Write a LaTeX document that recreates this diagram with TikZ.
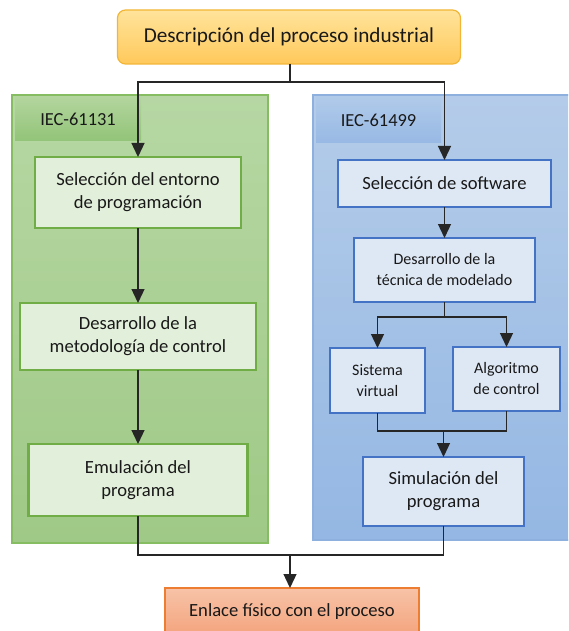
\documentclass[tikz,border=0pt]{standalone}
\usepackage{fontspec}
\setmainfont{Carlito}
\usetikzlibrary{arrows.meta}
\definecolor{topfillA}{HTML}{FFE49B}
\definecolor{topfillB}{HTML}{FFC95B}
\definecolor{topdraw}{HTML}{F2B636}
\definecolor{gpanA}{HTML}{B6D7A3}
\definecolor{gpanB}{HTML}{9FC986}
\definecolor{gpanD}{HTML}{86BD63}
\definecolor{gtabA}{HTML}{B3D59E}
\definecolor{gtabB}{HTML}{92C478}
\definecolor{gboxF}{HTML}{E2EFDA}
\definecolor{gboxD}{HTML}{70AD47}
\definecolor{bpanA}{HTML}{B4CCE9}
\definecolor{bpanB}{HTML}{94B7E3}
\definecolor{bpanD}{HTML}{8DB0DE}
\definecolor{btabA}{HTML}{B0CAE9}
\definecolor{btabB}{HTML}{98B9E5}
\definecolor{bboxF}{HTML}{DEE8F5}
\definecolor{bboxD}{HTML}{4472C4}
\definecolor{botA}{HTML}{F7C3A8}
\definecolor{botB}{HTML}{F4A37C}
\definecolor{botD}{HTML}{ED7D31}
\tikzset{
  x=1pt,y=-1pt,
  base/.style={inner sep=0pt,outer sep=0pt,align=center,text=black!90},
  panel/.style={base,line width=1.2pt},
  tabbox/.style={base,font=\fontsize{18.4}{22}\selectfont},
  gbox/.style={base,fill=gboxF,draw=gboxD,line width=2.3pt,font=\fontsize{18.6}{23}\selectfont},
  bbox/.style={base,fill=bboxF,draw=bboxD,line width=2.3pt,font=\fontsize{18.6}{23}\selectfont},
  sbox/.style={bbox,font=\fontsize{16}{21}\selectfont},
  conn/.style={line width=1.3pt,black!85},
  arr/.style={conn,-{Triangle[length=14pt,width=13pt]}}
}
\begin{document}
\begin{tikzpicture}
\clip (0,0) rectangle (568,631);
% panels
\node[panel,top color=gpanA,bottom color=gpanB,draw=gpanD,minimum width=256pt,minimum height=448pt] (gpan) at (140,319) {};
\node[panel,top color=bpanA,bottom color=bpanB,draw=bpanD,minimum width=258pt,minimum height=445pt] (bpan) at (442,317.5) {};
\node[tabbox,top color=gtabA,bottom color=gtabB,minimum width=126pt,minimum height=44pt] (gtab) at (78,119) {IEC-61131};
\node[tabbox,top color=btabA,bottom color=btabB,minimum width=125pt,minimum height=46pt] (btab) at (378.5,120) {IEC-61499};
% top and bottom
\node[base,top color=topfillA,bottom color=topfillB,draw=topdraw,line width=1.2pt,rounded corners=8pt,minimum width=343pt,minimum height=54pt,font=\fontsize{21.2}{24}\selectfont] (top) at (289,37) {Descripción del proceso industrial};
\node[base,top color=botA,bottom color=botB,draw=botD,line width=1.2pt,minimum width=254pt,minimum height=48pt,font=\fontsize{18.6}{22}\selectfont] (bot) at (292,612) {Enlace físico con el proceso};
% left column
\node[gbox,minimum width=206pt,minimum height=71pt] (g1) at (138,192.5) {Selección del entorno\\de programación};
\node[gbox,minimum width=236pt,minimum height=67pt] (g2) at (138,336.5) {Desarrollo de la\\metodología de control};
\node[gbox,minimum width=219pt,minimum height=72pt] (g3) at (138,480) {Emulación del\\programa};
% right column
\node[bbox,minimum width=213pt,minimum height=47pt] (b1) at (444.5,183.5) {Selección de software};
\node[sbox,minimum width=181pt,minimum height=64pt] (b2) at (444.5,270) {Desarrollo de la\\técnica de modelado};
\node[sbox,minimum width=95pt,minimum height=65pt] (b3) at (377.5,380.5) {Sistema\\virtual};
\node[sbox,minimum width=107pt,minimum height=64pt] (b4) at (506.5,379) {Algoritmo\\de control};
\node[bbox,minimum width=161pt,minimum height=69pt] (b5) at (443.5,491.5) {Simulación del\\programa};
% junctions
\coordinate (jt) at (290,82);
\coordinate (jb) at (444.5,317);
\coordinate (jm) at (443.5,431);
\coordinate (jbot) at (290,555);
% connectors
\draw[conn] (top.south -| jt) -- (jt);
\draw[arr] (jt) -| (g1.north);
\draw[arr] (jt) -| (b1.north);
\draw[arr] (g1.south) -- (g2.north);
\draw[arr] (g2.south) -- (g3.north);
\draw[arr] (b1.south) -- (b2.north);
\draw[conn] (b2.south) -- (jb);
\draw[arr] (jb) -| (b3.north);
\draw[arr] (jb) -| (b4.north);
\draw[conn] (b3.south) |- (jm);
\draw[conn] (b4.south) |- (jm);
\draw[arr] (jm) -- (b5.north);
\draw[conn] (g3.south) |- (jbot);
\draw[conn] (b5.south) |- (jbot);
\draw[arr] (jbot) -- (jbot |- bot.north);
\end{tikzpicture}
\end{document}
